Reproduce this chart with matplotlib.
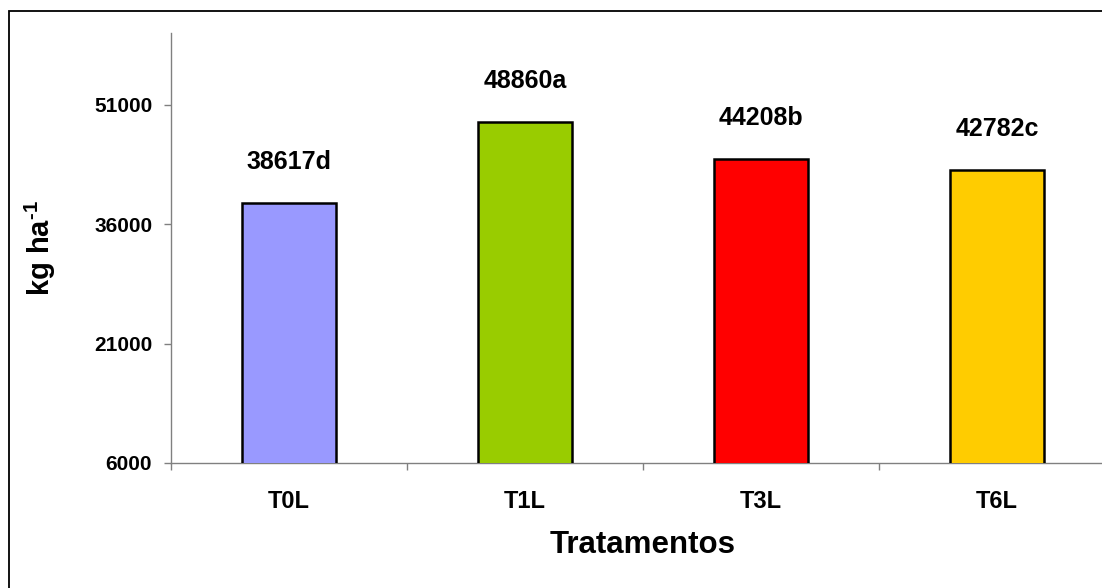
import matplotlib
matplotlib.use('Agg')
import matplotlib.pyplot as plt
from matplotlib.patches import Rectangle

plt.rcParams['font.family'] = ['Liberation Sans', 'DejaVu Sans']
plt.rcParams['font.weight'] = 'bold'
plt.rcParams['mathtext.fontset'] = 'custom'
plt.rcParams['mathtext.rm'] = 'Liberation Sans:bold'
plt.rcParams['mathtext.bf'] = 'Liberation Sans:bold'

tratamentos = ['T0L', 'T1L', 'T3L', 'T6L']
valores = [38617, 48860, 44208, 42782]
letras = ['d', 'a', 'b', 'c']
cores = ['#9999FF', '#99CC00', '#FF0000', '#FFCC00']
yticks = [6000, 21000, 36000, 51000]

W, H = 1102, 588
fig = plt.figure(figsize=(W / 100, H / 100), dpi=100)

# moldura do grafico (cortada a direita e embaixo)
fig.patches.append(Rectangle((9 / W, -0.1), 1.2, 1 - 11 / H + 0.1,
                             transform=fig.transFigure, fill=False,
                             edgecolor='black', linewidth=1.3))

ax = fig.add_axes([171 / W, 1 - 463 / H, (1115 - 171) / W, (463 - 33) / H])
ax.set_facecolor('none')

x = list(range(len(tratamentos)))
ax.bar(x, valores, width=0.40, bottom=0, color=cores,
       edgecolor='black', linewidth=1.8, zorder=3)

for xi, v, l in zip(x, valores, letras):
    ax.annotate(f'{v}{l}', (xi, v), xytext=(0, 29.5), textcoords='offset points',
                ha='center', va='center', fontsize=18, fontweight='bold')

ax.set_xlim(-0.5, 3.5)
ax.set_ylim(6000, 60000)
ax.set_yticks(yticks, [str(t) for t in yticks])
ax.set_xticks(x, tratamentos)
ax.set_xticks([i - 0.5 for i in range(len(tratamentos) + 1)], minor=True)
ax.tick_params(axis='x', which='major', length=0, pad=19.5, labelsize=17)
ax.tick_params(axis='x', which='minor', length=5, width=1, color='#808080', direction='out')
ax.tick_params(axis='y', length=5, width=1, color='#808080', direction='out', pad=8.5,
               labelsize=15)
for lab in ax.get_xticklabels() + ax.get_yticklabels():
    lab.set_fontweight('bold')

for s in ['top', 'right']:
    ax.spines[s].set_visible(False)
for s in ['left', 'bottom']:
    ax.spines[s].set_color('#808080')
    ax.spines[s].set_linewidth(1.0)

ax.set_xlabel('Tratamentos', fontsize=22.5, fontweight='bold', va='center')
ax.xaxis.set_label_coords(0.5, -82 / 430)
ax.set_ylabel(r'kg ha$^{\text{-1}}$', fontsize=21, fontweight='bold', va='center')
ax.yaxis.set_label_coords((40 - 171) / 944, 0.5)

fig.savefig('out.png', dpi=100)
